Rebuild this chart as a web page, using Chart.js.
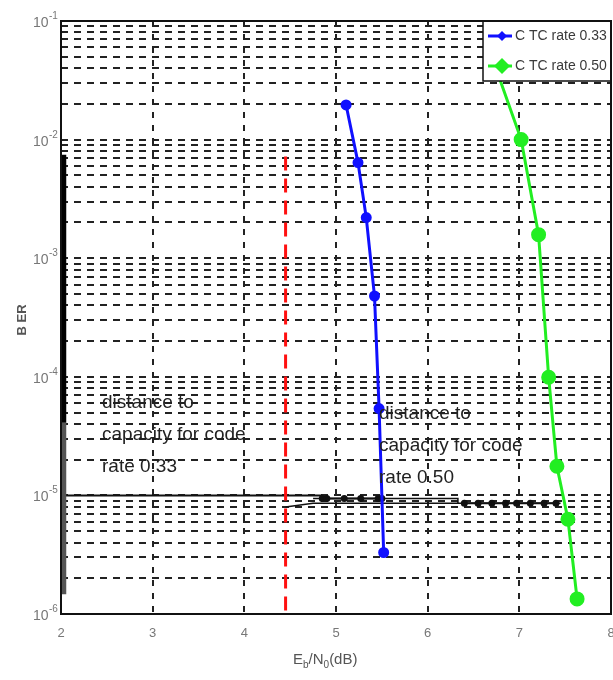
<!DOCTYPE html>
<html>
<head>
<meta charset="utf-8">
<script src="https://cdn.jsdelivr.net/npm/chart.js@4.4.1/dist/chart.umd.min.js"></script>
<style>
  body { margin: 0; background: #fff; overflow: hidden; }
  canvas { display: block; }
</style>
</head>
<body>
<canvas id="graph1" width="613" height="680"></canvas>
<script>
// series
var xBlue = [5.11, 5.24, 5.33, 5.42, 5.47, 5.52];
var berBlue = [1.96e-2, 6.4e-3, 2.2e-3, 4.8e-4, 5.4e-5, 3.3e-6];
var xGreen = [6.7, 7.02, 7.21, 7.32, 7.41, 7.53, 7.63];
var berGreen = [5e-2, 1.0e-2, 1.58e-3, 9.9e-5, 1.76e-5, 6.3e-6, 1.34e-6];

// capacity (red dashed) and the annotation lines
var xCap = [4.45, 4.45];
var berCap = [7.2e-3, 1e-6];
var xBar = [2.03, 2.03];
var berBar = [7.45e-3, 4.1e-5];
var berBarLow = [4.1e-5, 1.47e-6];
var xArrow1 = [2.05, 4.85];
var berArrow1 = [1e-5, 1e-5];
var xDots1 = [4.85, 4.9, 5.09, 5.27, 5.46, 5.5];
var berDots1 = [9.4e-6, 9.4e-6, 9.4e-6, 9.4e-6, 9.4e-6, 9.4e-6];
var xArrow2 = [4.45, 4.75, 7.45];
var berArrow2 = [8.0e-6, 8.6e-6, 8.6e-6];
var xBoxTop = [4.75, 6.33, 6.33];
var berBoxTop = [9.4e-6, 9.4e-6, 8.6e-6];
var xDots2 = [6.4, 6.55, 6.7, 6.85, 6.97, 7.12, 7.27, 7.4];
var berDots2 = [8.6e-6, 8.6e-6, 8.6e-6, 8.6e-6, 8.6e-6, 8.6e-6, 8.6e-6, 8.6e-6];

var xTicks = [2, 3, 4, 5, 6, 7, 8];
var decades = [-6, -5, -4, -3, -2, -1];
var legendLabels = ['C TC rate 0.33', 'C TC rate 0.50'];

function pts(xs, ys) {
    return xs.map(function (x, i) { return { x: x, y: ys[i] }; });
}

function plainLine(xs, ys, color, width, dash) {
    return {
        data: pts(xs, ys),
        borderColor: color,
        backgroundColor: color,
        borderWidth: width,
        borderDash: dash || [],
        pointRadius: 0,
        showLine: true
    };
}

var FONT = '"Liberation Sans", Arial, sans-serif';

var frame = {
    id: 'frame',
    afterDatasetsDraw: function (chart) {
        var ctx = chart.ctx;
        var xs = chart.scales.x, ys = chart.scales.y;
        ctx.save();

        // text notes
        ctx.fillStyle = '#222';
        ctx.font = '19px ' + FONT;
        ctx.textBaseline = 'middle';
        var l1 = ['distance to', 'capacity for code', 'rate 0.33'];
        var l2 = ['distance to', 'capacity for code', 'rate 0.50'];
        l1.forEach(function (t, i) { ctx.fillText(t, 102, 403 + i * 32); });
        l2.forEach(function (t, i) { ctx.fillText(t, 379, 414 + i * 32); });

        // legend box
        var bx = 483, by = ys.top, bw = xs.right - 483, bh = 60;
        ctx.fillStyle = '#fff';
        ctx.fillRect(bx, by, bw, bh);
        ctx.strokeStyle = '#111';
        ctx.lineWidth = 1.5;
        ctx.strokeRect(bx, by, bw, bh);
        var cols = ['#1010ff', '#22ee22'];
        var sizes = [5, 8];
        [36, 66].forEach(function (yy, i) {
            ctx.strokeStyle = cols[i];
            ctx.lineWidth = 3;
            ctx.beginPath();
            ctx.moveTo(488, yy);
            ctx.lineTo(512, yy);
            ctx.stroke();
            ctx.fillStyle = cols[i];
            var s = sizes[i];
            ctx.beginPath();
            ctx.moveTo(502, yy - s);
            ctx.lineTo(502 + s, yy);
            ctx.lineTo(502, yy + s);
            ctx.lineTo(502 - s, yy);
            ctx.closePath();
            ctx.fill();
            ctx.fillStyle = '#3a3a3a';
            ctx.font = '14px ' + FONT;
            ctx.fillText(legendLabels[i], 515, yy);
        });

        // plot frame
        ctx.strokeStyle = '#111';
        ctx.lineWidth = 2;
        ctx.strokeRect(xs.left, ys.top, xs.right - xs.left, ys.bottom - ys.top);

        // tick labels
        ctx.fillStyle = '#777';
        ctx.textBaseline = 'alphabetic';
        decades.forEach(function (d) {
            var py = ys.getPixelForValue(Math.pow(10, d));
            ctx.font = '14px ' + FONT;
            ctx.textAlign = 'left';
            ctx.fillText('10', 33, py + 6);
            ctx.font = '10px ' + FONT;
            ctx.fillText('-' + (-d), 49, py - 2);
        });
        ctx.font = '13px ' + FONT;
        ctx.textAlign = 'center';
        xTicks.forEach(function (v) {
            ctx.fillText(String(v), xs.getPixelForValue(v), ys.bottom + 23);
        });
        ctx.textAlign = 'left';

        // axis titles
        ctx.fillStyle = '#555';
        var x0 = 293, y0 = 664;
        var parts = [['E', 15, 0], ['b', 10, 4], ['/N', 15, 0], ['0', 10, 4], ['(dB)', 15, 0]];
        parts.forEach(function (p) {
            ctx.font = p[1] + 'px ' + FONT;
            ctx.fillText(p[0], x0, y0 + p[2]);
            x0 += ctx.measureText(p[0]).width;
        });
        ctx.translate(22, 320);
        ctx.rotate(-Math.PI / 2);
        ctx.font = 'bold 13px ' + FONT;
        ctx.textAlign = 'center';
        ctx.textBaseline = 'middle';
        ctx.fillText('B ER', 0, 0);
        ctx.restore();
    }
};

var context = document.getElementById('graph1').getContext('2d');
var chart = new Chart(context, {
    type: 'scatter',
    data: {
        datasets: [
            {
                label: legendLabels[0],
                data: pts(xBlue, berBlue),
                borderColor: '#1010ff',
                backgroundColor: '#1010ff',
                borderWidth: 3,
                pointRadius: 4,
                showLine: true
            },
            {
                label: legendLabels[1],
                data: pts(xGreen, berGreen),
                borderColor: '#22ee22',
                backgroundColor: '#22ee22',
                borderWidth: 3,
                pointRadius: 6,
                showLine: true
            },
            plainLine(xCap, berCap, '#ff1010', 3, [14, 8]),
            plainLine(xBar, berBar, '#000', 5),
            plainLine(xBar, berBarLow, '#555', 5),
            plainLine(xArrow1, berArrow1, '#111', 2),
            Object.assign(plainLine(xDots1, berDots1, '#111', 2), { pointRadius: 2.5 }),
            plainLine(xArrow2, berArrow2, '#111', 1.5),
            plainLine(xBoxTop, berBoxTop, '#111', 1.5),
            Object.assign(plainLine(xDots2, berDots2, '#111', 2), { pointRadius: 2.5 })
        ]
    },
    options: {
        responsive: false,
        animation: false,
        layout: { autoPadding: false, padding: { top: 21, right: 2, left: 0, bottom: 0 } },
        plugins: {
            legend: { display: false },
            tooltip: { enabled: false }
        },
        scales: {
            x: {
                type: 'linear',
                min: 2,
                max: 8,
                afterFit: function (s) { s.height = 66; },
                afterBuildTicks: function (s) {
                    s.ticks = xTicks.map(function (v) { return { value: v }; });
                },
                grid: { color: '#222', lineWidth: 2, drawTicks: false },
                border: { display: false, dash: [6, 7] },
                ticks: { display: false }
            },
            y: {
                type: 'logarithmic',
                min: 1e-6,
                max: 1e-1,
                afterFit: function (s) { s.width = 61; },
                afterBuildTicks: function (s) {
                    var t = [];
                    decades.forEach(function (d) {
                        for (var m = 1; m < 10; m++) {
                            if (d === -1 && m > 1) break;
                            t.push({ value: m * Math.pow(10, d) });
                        }
                    });
                    s.ticks = t;
                },
                grid: { color: '#222', lineWidth: 2, drawTicks: false },
                border: { display: false, dash: [7, 6] },
                ticks: { display: false }
            }
        }
    },
    plugins: [frame]
});
</script>
</body>
</html>
